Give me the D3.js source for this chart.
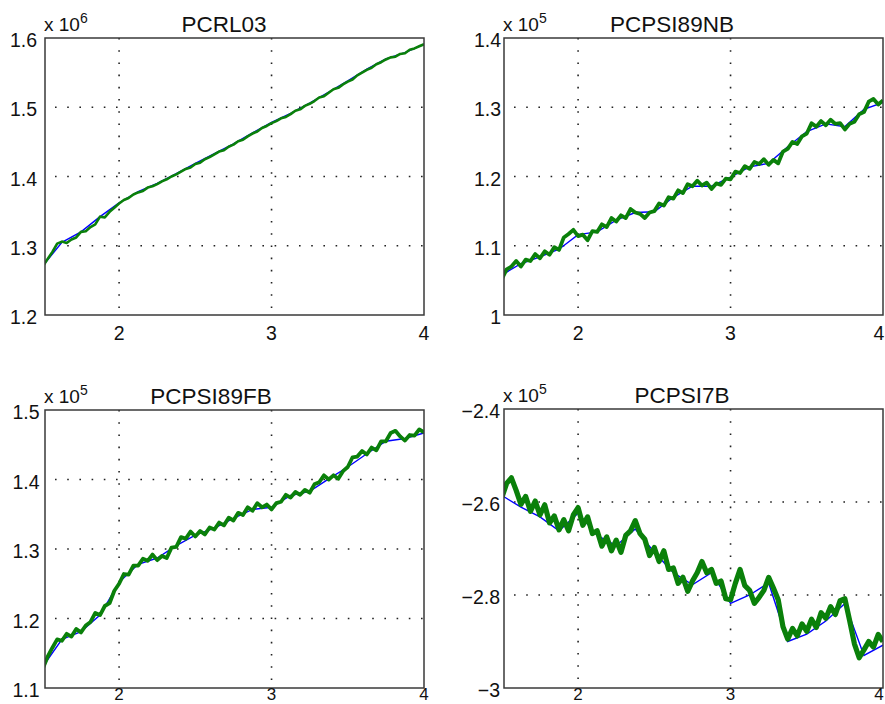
<!DOCTYPE html>
<html>
<head>
<meta charset="utf-8">
<script src="https://cdn.jsdelivr.net/npm/d3@7"></script>
<style>
  body { margin: 0; background: #fff; }
  text { font-family: 'Liberation Sans', Arial, Helvetica, sans-serif; fill: #111; }
</style>
</head>
<body>
<div id="fig"></div>
<script>
// ---- data (values in units of 10^exponent) ----
const titles = ['PCRL03', 'PCPSI89NB', 'PCPSI89FB', 'PCPSI7B'];
const exponents = [6, 5, 5, 5];
const yDomains = [[1.2, 1.6], [1.0, 1.4], [1.1, 1.5], [-3.0, -2.4]];
const yTicks = [
  [1.2, 1.3, 1.4, 1.5, 1.6],
  [1.0, 1.1, 1.2, 1.3, 1.4],
  [1.1, 1.2, 1.3, 1.4, 1.5],
  [-3.0, -2.8, -2.6, -2.4]
];
const xTicks = [2, 3, 4];
const xDomain = [1.514, 4];

// green traces sampled every 1/32 from x = 1.5, blue traces every 1/8
const greenStart = 1.5, greenStep = 1 / 32;
const blueStart = 1.5, blueStep = 1 / 8;

const greenPCRL03 = [1.270, 1.281, 1.291, 1.303, 1.306, 1.304, 1.309, 1.312, 1.320, 1.321,
  1.327, 1.331, 1.342, 1.341, 1.349, 1.355, 1.361, 1.366, 1.369, 1.374,
  1.377, 1.379, 1.384, 1.386, 1.389, 1.393, 1.396, 1.400, 1.403, 1.407,
  1.411, 1.413, 1.418, 1.420, 1.425, 1.428, 1.432, 1.436, 1.438, 1.443,
  1.446, 1.451, 1.453, 1.458, 1.462, 1.465, 1.470, 1.473, 1.477, 1.480,
  1.484, 1.486, 1.490, 1.495, 1.497, 1.502, 1.505, 1.509, 1.514, 1.516,
  1.521, 1.526, 1.528, 1.533, 1.537, 1.540, 1.546, 1.550, 1.554, 1.557,
  1.562, 1.565, 1.569, 1.572, 1.573, 1.577, 1.578, 1.583, 1.585, 1.588, 1.591];
const bluePCRL03 = [1.271, 1.305, 1.320, 1.342, 1.362, 1.378, 1.390, 1.404, 1.419, 1.433,
  1.447, 1.463, 1.478, 1.491, 1.506, 1.522, 1.538, 1.555, 1.570, 1.579, 1.591];

const greenPCPSI89NB = [1.052, 1.066, 1.070, 1.078, 1.070, 1.080, 1.078, 1.088, 1.082, 1.092,
  1.087, 1.098, 1.094, 1.112, 1.117, 1.123, 1.114, 1.116, 1.108, 1.121,
  1.120, 1.131, 1.127, 1.140, 1.135, 1.144, 1.140, 1.153, 1.148, 1.146,
  1.140, 1.148, 1.150, 1.161, 1.158, 1.170, 1.168, 1.180, 1.176, 1.189,
  1.186, 1.194, 1.187, 1.191, 1.182, 1.190, 1.188, 1.197, 1.196, 1.207,
  1.205, 1.215, 1.211, 1.221, 1.218, 1.225, 1.217, 1.224, 1.219, 1.236,
  1.240, 1.250, 1.247, 1.258, 1.262, 1.277, 1.272, 1.280, 1.274, 1.282,
  1.276, 1.277, 1.268, 1.276, 1.279, 1.290, 1.293, 1.308, 1.312, 1.304, 1.310];
const bluePCPSI89NB = [1.058, 1.074, 1.084, 1.095, 1.116, 1.120, 1.137, 1.148, 1.149, 1.170,
  1.186, 1.186, 1.199, 1.214, 1.219, 1.243, 1.265, 1.276, 1.272, 1.297, 1.307];

const greenPCPSI89FB = [1.128, 1.145, 1.158, 1.170, 1.168, 1.178, 1.174, 1.185, 1.180, 1.190,
  1.195, 1.208, 1.205, 1.218, 1.222, 1.240, 1.250, 1.264, 1.263, 1.276,
  1.276, 1.286, 1.283, 1.292, 1.284, 1.290, 1.287, 1.302, 1.303, 1.317,
  1.315, 1.325, 1.318, 1.326, 1.321, 1.331, 1.328, 1.338, 1.334, 1.345,
  1.341, 1.352, 1.349, 1.360, 1.355, 1.366, 1.360, 1.364, 1.357, 1.366,
  1.368, 1.378, 1.374, 1.382, 1.378, 1.385, 1.381, 1.393, 1.396, 1.406,
  1.400, 1.406, 1.401, 1.412, 1.418, 1.432, 1.433, 1.441, 1.436, 1.446,
  1.442, 1.455, 1.455, 1.467, 1.470, 1.462, 1.456, 1.464, 1.463, 1.472, 1.468];
const bluePCPSI89FB = [1.131, 1.170, 1.181, 1.205, 1.252, 1.278, 1.287, 1.305, 1.320, 1.330,
  1.344, 1.357, 1.360, 1.377, 1.383, 1.401, 1.418, 1.437, 1.455, 1.459, 1.467];

const greenPCPSI7B = [-2.590, -2.560, -2.548, -2.575, -2.605, -2.588, -2.620, -2.598, -2.628, -2.606,
  -2.645, -2.630, -2.660, -2.638, -2.662, -2.628, -2.612, -2.650, -2.632, -2.668,
  -2.662, -2.695, -2.675, -2.705, -2.682, -2.708, -2.672, -2.662, -2.640, -2.668,
  -2.680, -2.715, -2.698, -2.728, -2.705, -2.745, -2.742, -2.775, -2.762, -2.792,
  -2.770, -2.752, -2.728, -2.752, -2.745, -2.775, -2.770, -2.808, -2.810, -2.775,
  -2.745, -2.780, -2.790, -2.818, -2.805, -2.790, -2.762, -2.785, -2.810, -2.868,
  -2.895, -2.872, -2.888, -2.862, -2.878, -2.852, -2.870, -2.838, -2.850, -2.825,
  -2.842, -2.812, -2.808, -2.855, -2.905, -2.935, -2.918, -2.900, -2.912, -2.885, -2.900];
const bluePCPSI7B = [-2.586, -2.611, -2.632, -2.662, -2.624, -2.672, -2.694, -2.658, -2.708, -2.752,
  -2.778, -2.752, -2.818, -2.800, -2.774, -2.900, -2.884, -2.856, -2.818, -2.930, -2.908];

const greenSeries = [greenPCRL03, greenPCPSI89NB, greenPCPSI89FB, greenPCPSI7B];
const blueSeries = [bluePCRL03, bluePCPSI89NB, bluePCPSI89FB, bluePCPSI7B];

// ---- layout ----
const W = 885, H = 704;
const panels = [
  { left: 45, right: 424, top: 38, bottom: 315, titleX: 224, yGap: 8, xLabelY: 340, xLabelSize: 19.5, band: 2.6 },
  { left: 504, right: 883, top: 38, bottom: 315, titleX: 672, yGap: 3, xLabelY: 340, xLabelSize: 19.5, band: 3.8 },
  { left: 45, right: 424, top: 410, bottom: 688, titleX: 211, yGap: 5.5, xLabelY: 700, xLabelSize: 17, band: 3.8 },
  { left: 504, right: 883, top: 409, bottom: 688, titleX: 682, yGap: 4, xLabelY: 700, xLabelSize: 17, band: 5.2 }
];

const svg = d3.select('#fig').append('svg')
  .attr('width', W)
  .attr('height', H);

const fmt = d3.format('~g');

panels.forEach((p, k) => {
  const x = d3.scaleLinear().domain(xDomain).range([p.left, p.right]);
  const y = d3.scaleLinear().domain(yDomains[k]).range([p.bottom, p.top]);
  const g = svg.append('g');

  g.append('rect')
    .attr('x', p.left).attr('y', p.top)
    .attr('width', p.right - p.left).attr('height', p.bottom - p.top)
    .attr('fill', '#fff');

  // dotted grid
  g.selectAll('.gx').data(xTicks.filter(t => t < xDomain[1])).enter().append('line')
    .attr('x1', d => x(d)).attr('x2', d => x(d))
    .attr('y1', p.top).attr('y2', p.bottom)
    .attr('stroke', '#222').attr('stroke-width', 1.6)
    .attr('stroke-dasharray', '1.6,10.6');
  g.selectAll('.gy').data(yTicks[k].slice(1, -1)).enter().append('line')
    .attr('x1', p.left + 10).attr('x2', p.right)
    .attr('y1', d => y(d)).attr('y2', d => y(d))
    .attr('stroke', '#222').attr('stroke-width', 1.6)
    .attr('stroke-dasharray', '1.6,10.6');

  // traces
  const clipId = 'clip' + k;
  svg.append('clipPath').attr('id', clipId).append('rect')
    .attr('x', p.left).attr('y', p.top)
    .attr('width', p.right - p.left).attr('height', p.bottom - p.top);

  const blueLine = d3.line()
    .x((d, i) => x(blueStart + i * blueStep))
    .y(d => y(d));
  const greenLine = d3.line()
    .x((d, i) => x(greenStart + i * greenStep))
    .y(d => y(d));

  g.append('path').datum(blueSeries[k])
    .attr('clip-path', `url(#${clipId})`)
    .attr('fill', 'none').attr('stroke', '#0000ff').attr('stroke-width', 1.4)
    .attr('d', blueLine);
  g.append('path').datum(greenSeries[k])
    .attr('clip-path', `url(#${clipId})`)
    .attr('fill', 'none').attr('stroke', '#0a800a').attr('stroke-width', p.band)
    .attr('stroke-linejoin', 'round')
    .attr('d', greenLine);

  // frame
  g.append('rect')
    .attr('x', p.left).attr('y', p.top)
    .attr('width', p.right - p.left).attr('height', p.bottom - p.top)
    .attr('fill', 'none').attr('stroke', '#3a3a3a').attr('stroke-width', 1.5);

  // y tick labels
  g.selectAll('.yl').data(yTicks[k]).enter().append('text')
    .attr('x', p.left - p.yGap)
    .attr('y', d => y(d) + 9)
    .attr('text-anchor', 'end')
    .style('font-size', '19.5px')
    .text(d => fmt(d));

  // x tick labels (keep the last one inside the window)
  g.selectAll('.xl').data(xTicks).enter().append('text')
    .attr('x', d => Math.min(x(d), W - 6))
    .attr('y', p.xLabelY)
    .attr('text-anchor', 'middle')
    .style('font-size', p.xLabelSize + 'px')
    .text(d => d);

  // exponent
  const ex = g.append('text')
    .attr('x', p.left - 1)
    .attr('y', p.top - 7)
    .style('font-size', '19px');
  ex.append('tspan').text('x 10');
  ex.append('tspan').attr('dy', -8).style('font-size', '14px').text(exponents[k]);

  // title
  g.append('text')
    .attr('x', p.titleX)
    .attr('y', p.top - 6)
    .attr('text-anchor', 'middle')
    .style('font-size', '22.5px')
    .text(titles[k]);
});
</script>
</body>
</html>
